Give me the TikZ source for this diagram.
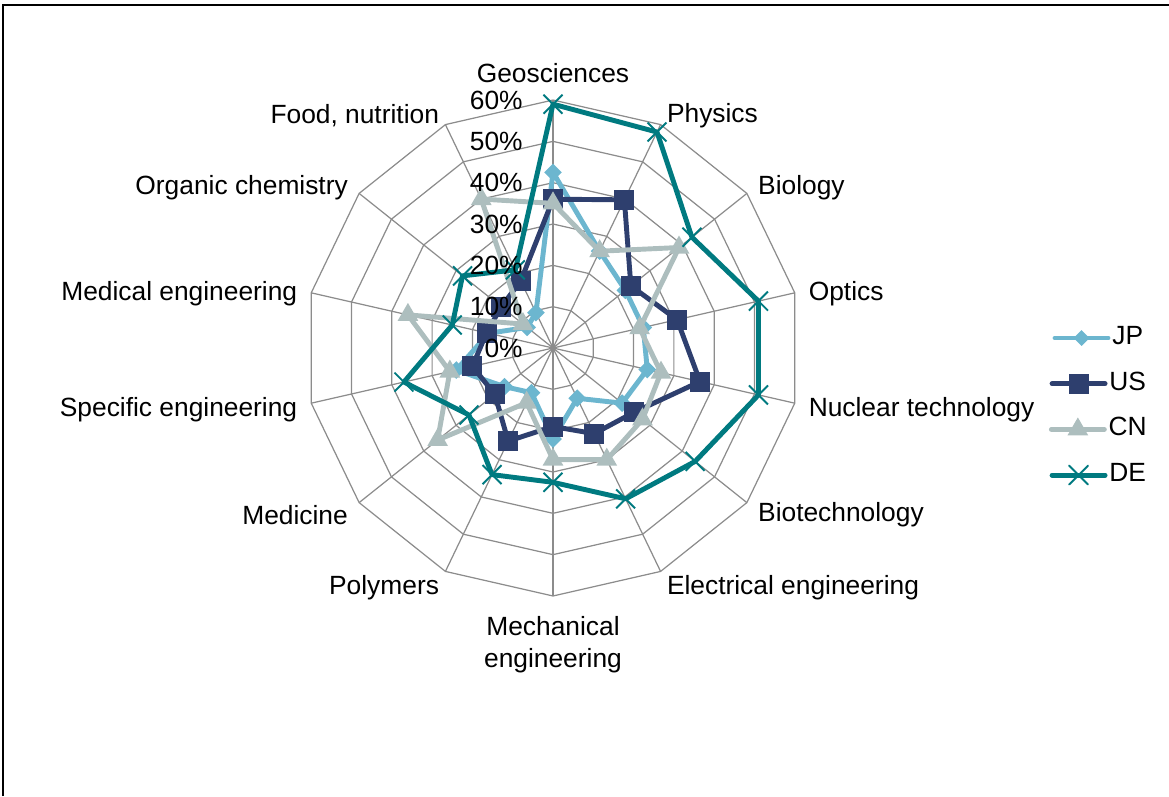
\documentclass[tikz,border=0pt]{standalone}
\usepackage{fontspec}
\setmainfont{Liberation Sans}
\usepackage{xcolor}
\usetikzlibrary{positioning}
\usetikzlibrary{shapes.geometric,shapes.misc}
\definecolor{jpblue}{RGB}{108,182,207}
\definecolor{usnavy}{RGB}{46,63,110}
\definecolor{cngrey}{RGB}{173,190,190}
\definecolor{deteal}{RGB}{0,122,128}
\definecolor{webgrey}{RGB}{140,140,140}
\tikzset{
	webline/.style={webgrey, line width=0.7pt},
	series/.style={line width=2.8pt, line join=round},
	jpmark/.style={diamond, fill=jpblue, inner sep=0pt, minimum size=0.36cm},
	usmark/.style={rectangle, fill=usnavy, inner sep=0pt, minimum size=0.4cm},
	cnmark/.style={regular polygon, regular polygon sides=3, fill=cngrey, inner sep=0pt, minimum size=0.48cm},
	demark/.style={cross out, draw=deteal, line width=1.1pt, inner sep=0pt, minimum size=0.34cm},
	catlabel/.style={font=\fontsize{15}{18.2}\selectfont, inner sep=0pt, align=center, yshift=-0.07cm},
	ticklabel/.style={font=\fontsize{15}{18.2}\selectfont, inner sep=0pt, anchor=east},
	legtext/.style={font=\fontsize{15}{18.2}\selectfont, inner sep=0pt, anchor=west, text height=0.36cm, text depth=0.1cm}
}
\begin{document}
\begin{tikzpicture}[x=0.02cm, y=0.02cm]
		\useasboundingbox (-553,-448) rectangle (616,348);
		\draw[line width=1.1pt] (-550,-448) -- (-550,343) -- (616,343);
		\coordinate (O) at (0,0);
		\foreach \r in {1,...,6}
			\draw[webline] (90:\r*41.33) \foreach \k in {1,...,13} {-- (90-\k*360/14:\r*41.33)} -- cycle;
		\foreach \k in {0,...,13}
			\draw[webline] (O) -- (90-\k*360/14:248);
		\foreach \txt/\anc/\rad [count=\k from 0] in {Geosciences/south/268, Physics/west/262, Biology/west/262, Optics/west/262, Nuclear technology/west/262, Biotechnology/west/262, Electrical engineering/west/262, Mechanical\\engineering/north/265, Polymers/east/262, Medicine/east/262, Specific engineering/east/262, Medical engineering/east/262, Organic chemistry/east/262, {Food, nutrition}/east/262}
			\node[catlabel, anchor=\anc] (cat\k) at (90-\k*360/14:\rad) {\txt};
		\foreach \v [count=\i from 0] in {42.5,26,22.4,22.4,23.4,21.4,13.5,22,12,15,24,16,8,9.5}
			\coordinate (jp\i) at (90-\i*360/14:\v*4.133);
		\draw[series, jpblue] (jp0) \foreach \i in {1,...,13} {-- (jp\i)} -- cycle;
		\foreach \i in {0,...,13} \node[jpmark] at (jp\i) {};
		\foreach \v [count=\i from 0] in {36,39.8,24.1,30.8,36.5,25,23,19,25,18,20,16.5,16,18}
			\coordinate (us\i) at (90-\i*360/14:\v*4.133);
		\draw[series, usnavy] (us0) \foreach \i in {1,...,13} {-- (us\i)} -- cycle;
		\foreach \i in {0,...,13} \node[usmark] at (us\i) {};
		\foreach \v [count=\i from 0] in {35,26,39,21.5,26.8,27.7,30,27,14.7,35.7,25.6,36,9.3,40}
			\coordinate (cn\i) at (90-\i*360/14:\v*4.133);
		\draw[series, cngrey] (cn0) \foreach \i in {1,...,13} {-- (cn\i)} -- cycle;
		\foreach \i in {0,...,13} \node[cnmark] at (cn\i) {};
		\foreach \v [count=\i from 0] in {59,58,43,51,51,44,40.5,32.5,34,26,37,25,28,21}
			\coordinate (de\i) at (90-\i*360/14:\v*4.133);
		\draw[series, deteal] (de0) \foreach \i in {1,...,13} {-- (de\i)} -- cycle;
		\foreach \i in {0,...,13} \node[demark] at (de\i) {};
		\foreach \v in {0,10,...,60}
			\node[ticklabel] (tick\v) at (-30,\v*4.133) {\v\%};
		\node[legtext] (lJP) at (559,10) {JP};
		\node[legtext, below = 0.44cm of lJP] (lUS) {US};
		\node[legtext, below = 0.44cm of lUS] (lCN) {CN};
		\node[legtext, below = 0.44cm of lCN] (lDE) {DE};
		\draw[series, jpblue, line cap=round] ([xshift=-1.14cm]lJP.west) -- ([xshift=-0.08cm]lJP.west) node[midway, jpmark] {};
		\draw[series, usnavy, line cap=round] ([xshift=-1.14cm]lUS.west) -- ([xshift=-0.08cm]lUS.west) node[midway, usmark] {};
		\draw[series, cngrey, line cap=round] ([xshift=-1.14cm]lCN.west) -- ([xshift=-0.08cm]lCN.west) node[midway, cnmark] {};
		\draw[series, deteal, line cap=round] ([xshift=-1.14cm]lDE.west) -- ([xshift=-0.08cm]lDE.west) node[midway, demark] {};
	\end{tikzpicture}
\end{document}
